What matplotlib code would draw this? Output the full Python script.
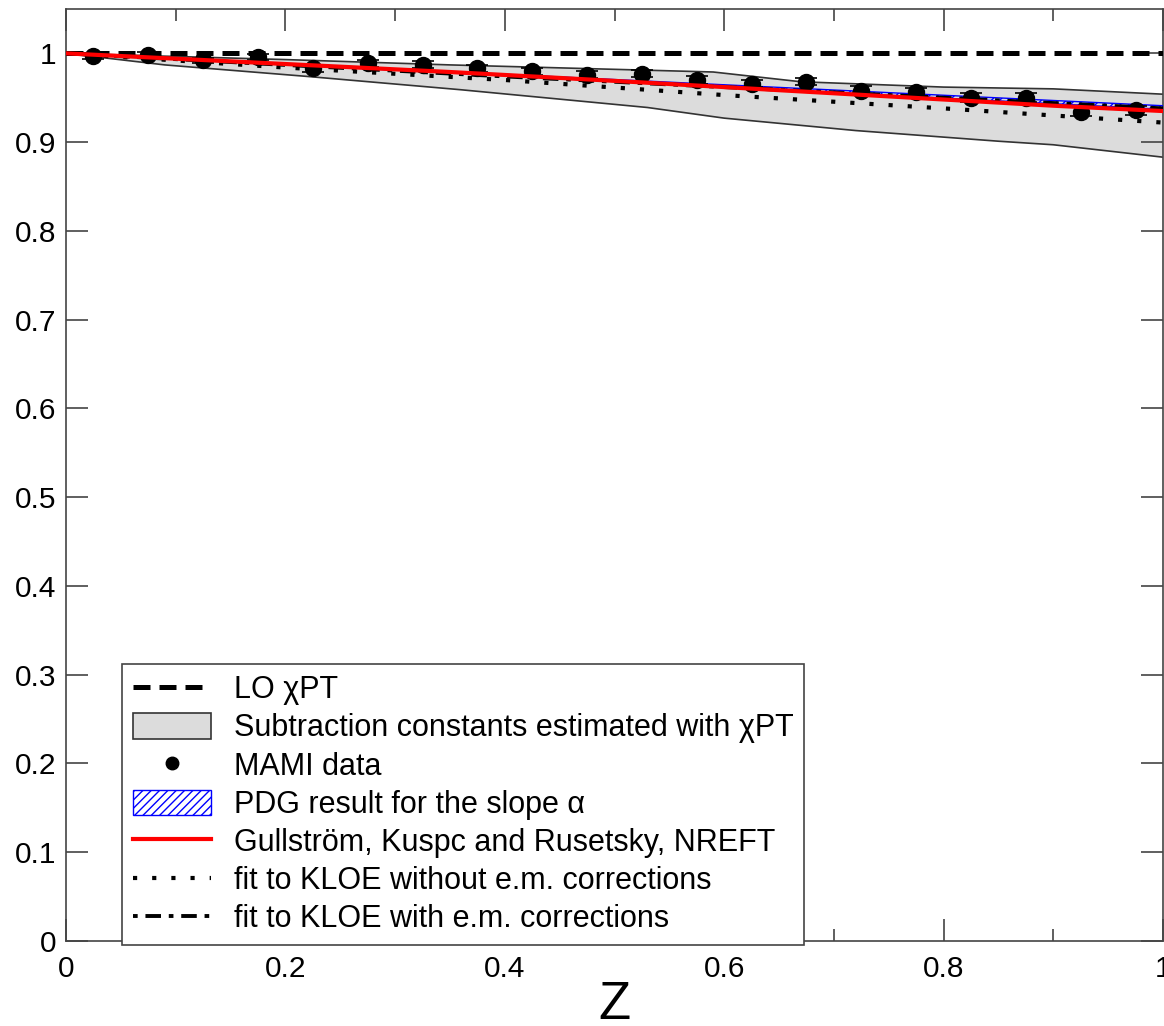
import matplotlib
matplotlib.use("Agg")
import matplotlib.pyplot as plt
from matplotlib.lines import Line2D
from matplotlib.patches import Patch
from matplotlib.ticker import MultipleLocator, FixedLocator, FuncFormatter

plt.rcParams['font.family'] = ['Liberation Sans', 'DejaVu Sans']
plt.rcParams['hatch.linewidth'] = 1.0

# MAMI measurement of the normalised amplitude squared
z_mami = [0.025, 0.075, 0.125, 0.175, 0.225, 0.275, 0.325, 0.375, 0.425, 0.475,
          0.525, 0.575, 0.625, 0.675, 0.725, 0.775, 0.825, 0.875, 0.925, 0.975]
f_mami = [0.997, 0.998, 0.992, 0.996, 0.983, 0.989, 0.987, 0.983, 0.980, 0.976,
          0.977, 0.970, 0.966, 0.968, 0.958, 0.956, 0.950, 0.950, 0.934, 0.936]
err_mami = [0.003, 0.003, 0.003, 0.003, 0.004, 0.004, 0.004, 0.004, 0.004, 0.004,
            0.004, 0.004, 0.004, 0.004, 0.005, 0.005, 0.005, 0.005, 0.005, 0.005]

# leading-order chiral perturbation theory
z_lo = [0.0, 1.0]
f_lo = [1.0, 1.0]

# band from subtraction constants estimated with chiPT
z_band_hi = [0.0, 0.2, 0.35, 0.59, 0.67, 0.8, 0.9, 1.0]
f_band_hi = [1.0, 0.993, 0.987, 0.979, 0.968, 0.962, 0.960, 0.954]
z_band_lo = [0.0, 0.09, 0.22, 0.36, 0.53, 0.6, 0.72, 0.85, 0.9, 1.0]
f_band_lo = [1.0, 0.987, 0.974, 0.959, 0.939, 0.927, 0.913, 0.901, 0.897, 0.883]

# PDG slope alpha band
z_pdg = [0.0, 1.0]
f_pdg_lo = [1.0, 0.937]
f_pdg_hi = [1.0, 0.941]

# NREFT (Gullstroem, Kupsc, Rusetsky)
z_nreft = [0.0, 0.35, 0.5, 0.7, 0.9, 1.0]
f_nreft = [1.0, 0.979, 0.969, 0.955, 0.941, 0.935]

# fits to KLOE
z_kloe = [0.0, 0.2, 0.4, 0.6, 0.8, 0.9, 1.0]
f_kloe_noem = [1.0, 0.984, 0.970, 0.953, 0.938, 0.930, 0.922]
f_kloe_em = [1.0, 0.987, 0.974, 0.962, 0.950, 0.944, 0.938]

x_ticks = [0.0, 0.2, 0.4, 0.6, 0.8, 1.0]
y_ticks = [0.0, 0.1, 0.2, 0.3, 0.4, 0.5, 0.6, 0.7, 0.8, 0.9, 1.0]

fig = plt.figure(figsize=(11.64, 10.26), dpi=100)
ax = fig.add_axes([66 / 1164, (1026 - 940.7) / 1026, (1163 - 66) / 1164, (940.7 - 9) / 1026])

spine_col = '#444444'

# chiPT band
ax.fill(z_band_hi + z_band_lo[::-1], f_band_hi + f_band_lo[::-1],
        facecolor='#dcdcdc', edgecolor='none', zorder=1)
ax.plot(z_band_hi, f_band_hi, color='#333333', lw=1.2, zorder=2)
ax.plot(z_band_lo, f_band_lo, color='#333333', lw=1.2, zorder=2)

# PDG band
ax.fill_between(z_pdg, f_pdg_lo, f_pdg_hi, facecolor='none', edgecolor='blue',
                hatch='////', lw=1.0, zorder=3)

# LO chiPT
ax.plot(z_lo, f_lo, color='black', lw=3.6, linestyle=(0, (3.4, 1.8)), zorder=4)

# MAMI data
ax.errorbar(z_mami, f_mami, yerr=err_mami, fmt='o', color='black', ms=11.5,
            capsize=8, elinewidth=1.2, capthick=1.2, zorder=5)

# KLOE fits
ax.plot(z_kloe, f_kloe_noem, color='black', lw=3.0, linestyle=(0, (1.0, 3.6)), zorder=6)
ax.plot(z_kloe, f_kloe_em, color='black', lw=2.8, linestyle=(0, (1.2, 2.0, 4.0, 2.0)), zorder=6)

# NREFT
ax.plot(z_nreft, f_nreft, color='red', lw=3.0, zorder=7)

ax.set_xlim(0, 1)
ax.set_ylim(0, 1.05)
ax.xaxis.set_major_locator(FixedLocator(x_ticks))
ax.xaxis.set_minor_locator(MultipleLocator(0.1))
ax.yaxis.set_major_locator(FixedLocator(y_ticks))
fmt = FuncFormatter(lambda v, p: f'{v:g}')
ax.xaxis.set_major_formatter(fmt)
ax.yaxis.set_major_formatter(fmt)

ax.tick_params(which='both', direction='in', top=True, right=True,
               color=spine_col, width=1.2, labelsize=21.5)
ax.tick_params(which='major', length=16)
ax.tick_params(which='minor', length=8.3)
ax.tick_params(axis='x', pad=10)
ax.tick_params(axis='y', pad=7)
for s in ax.spines.values():
    s.set_color(spine_col)
    s.set_linewidth(1.2)

ax.set_xlabel('Z', fontsize=38, labelpad=-2)

handles = [
    Line2D([], [], color='black', lw=3.6, linestyle=(0, (3.4, 1.8))),
    Patch(facecolor='#dcdcdc', edgecolor='#333333', lw=1.2),
    Line2D([], [], color='black', marker='o', ms=9, linestyle='none'),
    Patch(facecolor='white', edgecolor='blue', hatch='////', lw=1.0),
    Line2D([], [], color='red', lw=3.0),
    Line2D([], [], color='black', lw=3.0, linestyle=(0, (1.0, 3.6))),
    Line2D([], [], color='black', lw=2.8, linestyle=(0, (1.2, 2.0, 4.0, 2.0))),
]
labels = [
    'LO χPT',
    'Subtraction constants estimated with χPT',
    'MAMI data',
    'PDG result for the slope α',
    'Gullström, Kuspc and Rusetsky, NREFT',
    'fit to KLOE without e.m. corrections',
    'fit to KLOE with e.m. corrections',
]
leg = ax.legend(handles, labels, loc='lower left',
                bbox_to_anchor=(122 / 1164, (1026 - 945) / 1026),
                bbox_transform=fig.transFigure, borderaxespad=0,
                fontsize=22, frameon=True, fancybox=False, framealpha=1,
                edgecolor=spine_col, handlelength=2.55, handleheight=0.9,
                handletextpad=0.75, labelspacing=0.26, borderpad=0.35)
leg.get_frame().set_linewidth(1.2)
leg.set_zorder(10)

fig.savefig('out.png', dpi=100)
